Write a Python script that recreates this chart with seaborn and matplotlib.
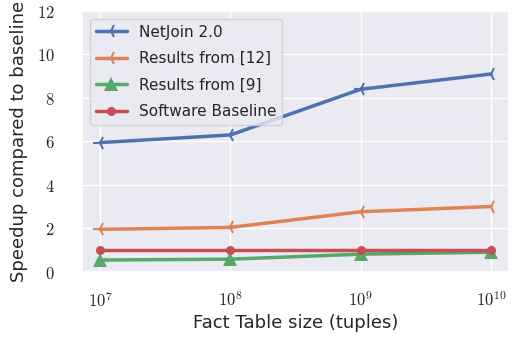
import matplotlib
matplotlib.use("Agg")
import matplotlib.pyplot as plt
import seaborn as sns
import pandas as pd

# Data
sizes = [1e7, 1e8, 1e9, 1e10]
netjoin = [5.95, 6.3, 8.4, 9.1]
results_12 = [1.96, 2.05, 2.77, 3.01]
results_9 = [0.55, 0.59, 0.82, 0.91]
baseline = [1.0, 1.0, 1.0, 1.0]

series = ["NetJoin 2.0", "Results from [12]", "Results from [9]", "Software Baseline"]
values = [netjoin, results_12, results_9, baseline]

sns.set_theme(style="darkgrid", palette="deep")
plt.rcParams["mathtext.fontset"] = "cm"

df = pd.DataFrame({
    "size": sizes * len(series),
    "speedup": [v for vals in values for v in vals],
    "series": [s for s in series for _ in sizes],
})

fig, ax = plt.subplots(figsize=(5.14, 3.43), dpi=100)
markers = {"NetJoin 2.0": "3", "Results from [12]": "3",
           "Results from [9]": "^", "Software Baseline": "o"}
msizes = {"NetJoin 2.0": 10, "Results from [12]": 10,
          "Results from [9]": 10, "Software Baseline": 6.5}
pal = sns.color_palette("deep")
for i, s in enumerate(series):
    sub = df[df["series"] == s]
    sns.lineplot(data=sub, x="size", y="speedup", ax=ax, label=s,
                 color=pal[i], marker=markers[s], markersize=msizes[s],
                 markeredgewidth=1.5 if markers[s] == "3" else 0,
                 markeredgecolor=pal[i], linewidth=2.5)

ax.set_xscale("log")
ax.set_xlim(10**6.862, 10**10.138)
ax.set_ylim(0, 12)
ax.set_xticks(sizes)
ax.set_xticklabels([r"$10^{7}$", r"$10^{8}$", r"$10^{9}$", r"$10^{10}$"], fontsize=12)
ax.minorticks_off()
yt = [0, 2, 4, 6, 8, 10, 12]
ax.set_yticks(yt)
ax.set_yticklabels([rf"${t}$" for t in yt], fontsize=12)
ax.tick_params(axis="y", pad=14)
ax.tick_params(axis="x", pad=8)
ax.set_xlabel("Fact Table size (tuples)", fontsize=13, labelpad=2)
ax.set_ylabel("Speedup compared to baseline", fontsize=13, labelpad=6)
ax.legend(loc="upper left", fontsize=11, labelspacing=0.75)

fig.subplots_adjust(left=0.16, right=0.99, bottom=0.207, top=0.968)
fig.savefig("out.png")
